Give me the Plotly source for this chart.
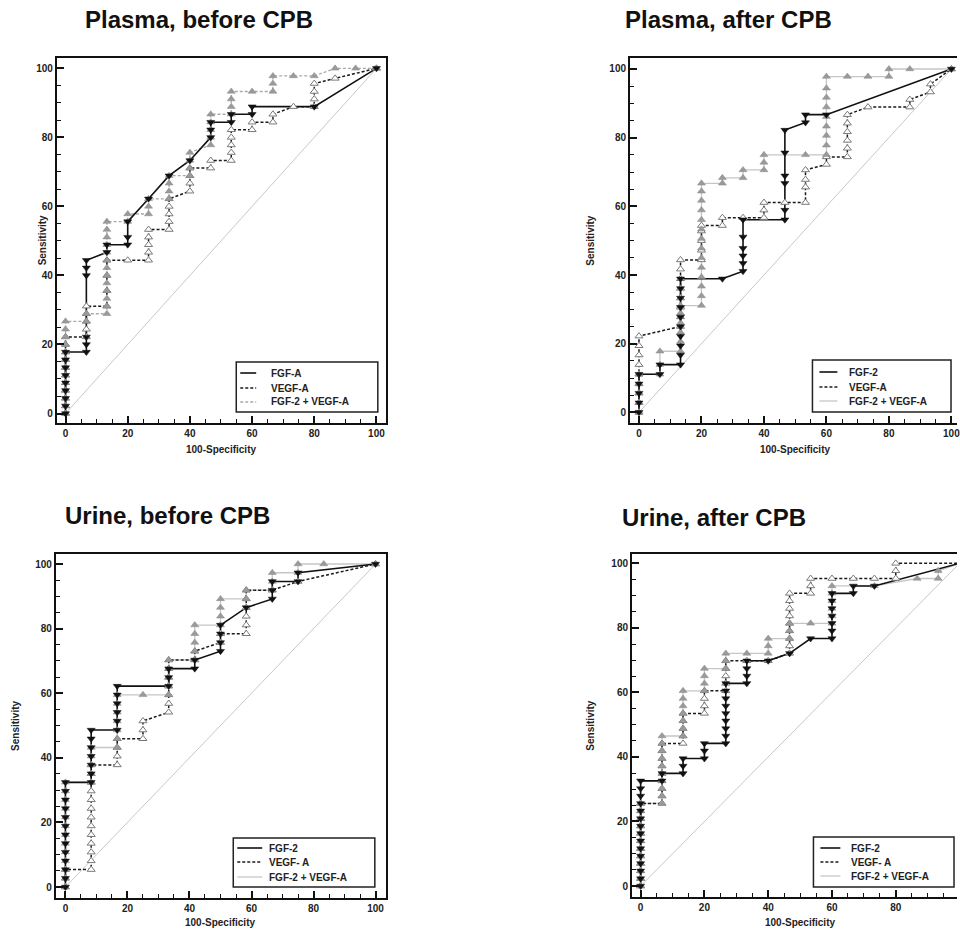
import plotly.graph_objects as go

# ---------------- data ----------------
# Panel 1: Plasma, before CPB
TL_FGF_X = [0, 0, 0, 0, 0, 0, 0, 0, 0,
            6.7, 6.7, 6.7, 6.7, 6.7, 6.7,
            13.3, 13.3,
            20, 20, 20,
            26.7, 33.3, 40,
            46.7, 46.7, 46.7,
            53.3, 53.3,
            60, 60,
            80, 100]
TL_FGF_Y = [0, 2.2, 4.4, 6.7, 8.9, 11.1, 13.3, 15.6, 17.8,
            17.8, 20.0, 22.2, 40.0, 42.2, 44.4,
            46.7, 48.9,
            48.9, 51.1, 55.6,
            62.2, 68.9, 73.3,
            80.0, 82.2, 84.4,
            84.4, 86.7,
            86.7, 88.9,
            88.9, 100]
TL_VEGF_X = [0, 0, 0, 0, 0, 0, 0, 0, 0, 0, 0,
             6.7, 6.7, 6.7, 6.7, 6.7,
             13.3, 13.3, 13.3, 13.3,
             20,
             26.7, 26.7, 26.7, 26.7, 26.7,
             33.3, 33.3, 33.3, 33.3, 33.3,
             40, 40, 40, 40,
             46.7, 46.7,
             53.3, 53.3, 53.3, 53.3, 53.3,
             60, 60,
             66.7, 66.7,
             73.3,
             80, 80, 80, 80,
             86.7, 100]
TL_VEGF_Y = [0, 2.2, 4.4, 6.7, 8.9, 11.1, 13.3, 15.6, 17.8, 20.0, 22.2,
             22.2, 24.4, 26.7, 28.9, 31.1,
             31.1, 35.6, 40.0, 44.4,
             44.4,
             44.4, 46.7, 48.9, 51.1, 53.3,
             53.3, 55.6, 57.8, 60.0, 62.2,
             64.4, 66.7, 68.9, 71.1,
             71.1, 73.3,
             73.3, 75.6, 77.8, 80.0, 82.2,
             82.2, 84.4,
             84.4, 86.7,
             88.9,
             88.9, 91.1, 93.3, 95.6,
             97.1, 100]
TL_COMBO_X = [0, 0, 0, 0, 0, 0, 0, 0, 0, 0, 0, 0, 0,
              6.7, 6.7,
              13.3, 13.3, 13.3, 13.3, 13.3, 13.3, 13.3, 13.3, 13.3, 13.3, 13.3, 13.3, 13.3,
              20, 20,
              26.7, 26.7, 26.7,
              33.3, 33.3, 33.3, 33.3,
              40, 40, 40, 40,
              46.7, 46.7, 46.7, 46.7, 46.7,
              53.3, 53.3, 53.3, 53.3,
              60,
              66.7, 66.7, 66.7,
              73.3, 80, 86.7, 93.3, 100]
TL_COMBO_Y = [0, 2.2, 4.4, 6.7, 8.9, 11.1, 13.3, 15.6, 17.8, 20.0, 22.2, 24.4, 26.7,
              26.7, 28.9,
              28.9, 31.1, 33.3, 35.6, 37.8, 40.0, 42.2, 44.4, 46.7, 48.9, 51.1, 53.3, 55.6,
              55.6, 57.8,
              57.8, 60.0, 62.2,
              62.2, 64.4, 66.7, 68.9,
              68.9, 71.1, 73.3, 75.6,
              77.8, 80.0, 82.2, 84.4, 86.7,
              86.7, 88.9, 91.1, 93.3,
              93.3,
              93.3, 95.6, 97.8,
              97.8, 97.8, 100, 100, 100]

# Panel 2: Plasma, after CPB
TR_FGF_X = [0, 0, 0, 0, 0,
            6.7, 6.7,
            13.3, 13.3, 13.3, 13.3, 13.3, 13.3, 13.3, 13.3, 13.3, 13.3,
            26.7,
            33.3, 33.3, 33.3, 33.3, 33.3, 33.3,
            46.7, 46.7, 46.7, 46.7, 46.7, 46.7,
            53.3, 53.3,
            60, 100]
TR_FGF_Y = [0, 2.8, 5.6, 8.3, 11.1,
            11.1, 13.9,
            13.9, 16.7, 19.4, 22.2, 25.0, 27.8, 30.6, 33.3, 36.1, 38.9,
            38.9,
            41.1, 43.4, 45.6, 47.8, 51.1, 56.1,
            56.1, 58.9, 66.7, 68.9, 75.6, 82.2,
            84.4, 86.7,
            86.7, 100]
TR_VEGF_X = [0, 0, 0, 0, 0, 0, 0, 0, 0,
             13.3, 13.3, 13.3, 13.3, 13.3, 13.3, 13.3, 13.3,
             20, 20, 20, 20, 20,
             26.7, 26.7,
             33.3,
             40, 40, 40,
             46.7,
             53.3, 53.3, 53.3, 53.3,
             60, 60,
             66.7, 66.7, 66.7, 66.7, 66.7, 66.7,
             73.3,
             86.7, 86.7,
             93.3, 93.3,
             100]
TR_VEGF_Y = [0, 2.8, 5.6, 8.3, 11.1, 13.9, 16.7, 19.4, 22.2,
             25.0, 27.8, 30.6, 33.3, 36.1, 38.9, 41.7, 44.4,
             44.4, 47.2, 50.0, 52.8, 54.4,
             54.4, 56.7,
             56.7,
             56.7, 58.9, 61.1,
             61.1,
             61.1, 65.6, 67.8, 70.6,
             72.2, 74.4,
             74.4, 76.9, 79.2, 81.7, 84.2, 86.7,
             88.9,
             88.9, 91.1,
             93.3, 95.6,
             100]
TR_COMBO_X = [0, 0, 0, 0, 0,
              6.7, 6.7, 6.7,
              13.3, 13.3, 13.3, 13.3, 13.3, 13.3,
              20, 20, 20, 20, 20, 20, 20, 20, 20, 20, 20, 20, 20, 20,
              26.7, 26.7,
              33.3, 33.3,
              40, 40, 40,
              53.3,
              60, 60, 60, 60, 60, 60, 60, 60, 60,
              66.7, 73.3,
              80, 80,
              86.7, 100]
TR_COMBO_Y = [0, 2.8, 5.6, 8.3, 11.1,
              11.1, 13.9, 17.8,
              17.8, 20.6, 23.3, 26.1, 28.9, 31.1,
              31.1, 33.9, 36.7, 39.4, 42.2, 45.0, 47.8, 50.6, 53.3, 56.1, 58.9, 61.7, 64.4, 66.7,
              66.7, 68.3,
              68.3, 70.6,
              70.6, 72.8, 75.0,
              75.0,
              75.0, 77.8, 80.6, 83.3, 86.1, 88.9, 91.7, 94.4, 97.8,
              97.8, 97.8,
              97.8, 100,
              100, 100]

# Panel 3: Urine, before CPB
BL_FGF_X = [0, 0, 0, 0, 0, 0, 0, 0, 0, 0, 0, 0, 0,
            8.3, 8.3, 8.3, 8.3, 8.3, 8.3, 8.3,
            16.7, 16.7, 16.7, 16.7, 16.7, 16.7,
            33.3, 33.3, 33.3,
            41.7, 41.7,
            50, 50, 50, 50,
            58.3,
            66.7, 66.7, 66.7,
            75, 75,
            100]
BL_FGF_Y = [0, 2.7, 5.4, 8.1, 10.8, 13.5, 16.2, 18.9, 21.6, 24.3, 27.0, 29.7, 32.4,
            32.4, 35.1, 37.8, 40.5, 43.2, 45.9, 48.6,
            48.6, 51.4, 54.1, 56.8, 59.5, 62.2,
            62.2, 64.9, 67.6,
            67.6, 70.3,
            73.0, 75.7, 78.4, 81.1,
            86.5,
            89.2, 91.9, 94.6,
            94.6, 97.3,
            100]
BL_VEGF_X = [0, 0, 0,
             8.3, 8.3, 8.3, 8.3, 8.3, 8.3, 8.3, 8.3, 8.3, 8.3, 8.3, 8.3, 8.3,
             16.7, 16.7, 16.7, 16.7,
             25, 25, 25,
             33.3, 33.3, 33.3, 33.3, 33.3, 33.3, 33.3,
             41.7, 41.7,
             50, 50,
             58.3, 58.3, 58.3, 58.3, 58.3, 58.3,
             66.7, 75, 100]
BL_VEGF_Y = [0, 2.7, 5.4,
             5.4, 8.1, 10.8, 13.5, 16.2, 18.9, 21.6, 24.3, 27.0, 29.7, 32.4, 35.1, 37.8,
             37.8, 40.5, 43.2, 45.9,
             45.9, 48.6, 51.4,
             54.1, 56.8, 59.5, 62.2, 64.9, 67.6, 70.3,
             70.3, 73.0,
             75.7, 78.4,
             78.4, 81.1, 83.8, 86.5, 89.2, 91.9,
             91.9, 94.6, 100]
BL_COMBO_X = [0, 0, 0, 0, 0, 0, 0, 0, 0, 0, 0, 0, 0,
              8.3, 8.3, 8.3, 8.3, 8.3,
              16.7, 16.7, 16.7, 16.7, 16.7, 16.7, 16.7,
              25,
              33.3, 33.3, 33.3, 33.3, 33.3,
              41.7, 41.7, 41.7, 41.7, 41.7,
              50, 50, 50, 50,
              58.3, 58.3,
              66.7, 66.7, 66.7,
              75, 75,
              83.3, 100]
BL_COMBO_Y = [0, 2.7, 5.4, 8.1, 10.8, 13.5, 16.2, 18.9, 21.6, 24.3, 27.0, 29.7, 32.4,
              32.4, 35.1, 37.8, 40.5, 43.2,
              43.2, 45.9, 48.6, 51.4, 54.1, 56.8, 59.5,
              59.5,
              59.5, 62.2, 64.9, 67.6, 70.3,
              70.3, 73.0, 75.7, 78.4, 81.1,
              81.1, 83.8, 86.5, 89.2,
              89.2, 91.9,
              91.9, 94.6, 97.3,
              97.3, 100,
              100, 100]

# Panel 4: Urine, after CPB
BR_FGF_X = [0, 0, 0, 0, 0, 0, 0, 0, 0, 0, 0, 0, 0, 0, 0,
            6.7, 6.7,
            13.3, 13.3, 13.3,
            20, 20, 20,
            26.7, 26.7, 26.7, 26.7, 26.7, 26.7, 26.7, 26.7, 26.7,
            33.3, 33.3, 33.3, 33.3,
            40, 46.7, 53.3,
            60, 60, 60, 60, 60, 60, 60,
            66.7, 66.7,
            73.3, 100]
BR_FGF_Y = [0, 2.3, 4.7, 7.0, 9.3, 11.6, 14.0, 16.3, 18.6, 20.9, 23.3, 25.6, 27.9, 30.2, 32.6,
            32.6, 34.9,
            34.9, 37.2, 39.5,
            39.5, 41.9, 44.2,
            44.2, 46.5, 48.8, 51.2, 53.5, 55.8, 58.1, 60.5, 62.8,
            62.8, 65.1, 67.4, 69.8,
            69.8, 72.1, 76.7,
            76.7, 79.1, 81.4, 83.7, 86.0, 88.4, 90.7,
            90.7, 93.0,
            93.0, 100]
BR_VEGF_X = [0, 0, 0, 0, 0, 0, 0, 0, 0, 0, 0, 0,
             6.7, 6.7, 6.7, 6.7, 6.7, 6.7, 6.7, 6.7, 6.7,
             13.3, 13.3, 13.3, 13.3, 13.3,
             20, 20, 20, 20,
             26.7, 26.7, 26.7, 26.7, 26.7,
             33.3, 40,
             46.7, 46.7, 46.7, 46.7, 46.7, 46.7, 46.7, 46.7, 46.7,
             53.3, 53.3, 53.3,
             60, 66.7, 73.3,
             80, 80, 80,
             100]
BR_VEGF_Y = [0, 2.3, 4.7, 7.0, 9.3, 11.6, 14.0, 16.3, 18.6, 20.9, 23.3, 25.6,
             25.6, 27.9, 30.2, 32.6, 34.9, 37.2, 39.5, 41.9, 44.2,
             44.2, 46.5, 48.8, 51.2, 53.5,
             53.5, 55.8, 58.1, 60.5,
             60.5, 62.8, 65.1, 67.4, 69.8,
             69.8, 69.8,
             72.1, 74.4, 76.7, 79.1, 81.4, 83.7, 86.0, 88.4, 90.7,
             90.7, 93.0, 95.3,
             95.3, 95.3, 95.3,
             95.3, 97.7, 100,
             100]
BR_COMBO_X = [0, 0, 0, 0, 0, 0, 0, 0, 0, 0, 0, 0,
              6.7, 6.7, 6.7, 6.7, 6.7, 6.7, 6.7, 6.7, 6.7, 6.7,
              13.3, 13.3, 13.3, 13.3, 13.3, 13.3, 13.3,
              20, 20, 20, 20,
              26.7, 26.7, 26.7,
              33.3,
              40, 40, 40,
              46.7, 46.7, 46.7,
              53.3,
              60, 60, 60, 60, 60, 60,
              73.3, 86.7,
              93.3, 93.3,
              100]
BR_COMBO_Y = [0, 2.3, 4.7, 7.0, 9.3, 11.6, 14.0, 16.3, 18.6, 20.9, 23.3, 25.6,
              25.6, 27.9, 30.2, 32.6, 34.9, 37.2, 39.5, 41.9, 44.2, 46.5,
              46.5, 48.8, 51.2, 53.5, 55.8, 58.1, 60.5,
              60.5, 62.8, 65.1, 67.4,
              67.4, 69.8, 72.1,
              72.1,
              72.1, 74.4, 76.7,
              76.7, 79.1, 81.4,
              81.4,
              81.4, 83.7, 86.0, 88.4, 90.7, 93.0,
              93.0, 95.3,
              95.3, 97.7,
              100]

DIAG_X = [0, 100]
DIAG_Y = [0, 100]

TITLES = ["Plasma, before CPB", "Plasma, after CPB", "Urine, before CPB", "Urine, after CPB"]
LEGEND_LABELS = [
    ["FGF-A", "VEGF-A", "FGF-2 + VEGF-A"],
    ["FGF-2", "VEGF-A", "FGF-2 + VEGF-A"],
    ["FGF-2", "VEGF- A", "FGF-2 + VEGF-A"],
    ["FGF-2", "VEGF- A", "FGF-2 + VEGF-A"],
]
TICK_VALS = [0, 20, 40, 60, 80, 100]
TICK_TEXT = ["0", "20", "40", "60", "80", "100"]
X_TITLE = "100-Specificity"
Y_TITLE = "Sensitivity"

SERIES = [
    (TL_FGF_X, TL_FGF_Y, TL_VEGF_X, TL_VEGF_Y, TL_COMBO_X, TL_COMBO_Y),
    (TR_FGF_X, TR_FGF_Y, TR_VEGF_X, TR_VEGF_Y, TR_COMBO_X, TR_COMBO_Y),
    (BL_FGF_X, BL_FGF_Y, BL_VEGF_X, BL_VEGF_Y, BL_COMBO_X, BL_COMBO_Y),
    (BR_FGF_X, BR_FGF_Y, BR_VEGF_X, BR_VEGF_Y, BR_COMBO_X, BR_COMBO_Y),
]
for s in SERIES:
    for i in range(0, 6, 2):
        assert len(s[i]) == len(s[i + 1]), (len(s[i]), len(s[i + 1]))

# ---------------- layout / style ----------------
W, H = 960, 934
FONT = "Liberation Sans, Arial, Helvetica, sans-serif"


def px(x):
    return x / W


def py(y):
    return 1 - y / H


PANELS = [
    dict(box=(57, 58, 387, 423), xr=[-2.8, 103.0], yr=[-2.75, 103.0], mirror_y=True,
         title_xy=(200, 19), ytitle_x=43, xtitle_y=449,
         leg_box=(237, 362, 379, 412), leg_rows=(373, 388, 402), sample=(241, 257), text_x=270,
         combo_dash="3px,2px", combo_color="#a9a9a9"),
    dict(box=(632, 58, 960, 423), xr=[-2.87, 101.8], yr=[-3.1, 103.2], mirror_y=False,
         title_xy=(731, 19), ytitle_x=592, xtitle_y=449,
         leg_box=(815, 360, 954, 412), leg_rows=(372, 387, 401), sample=(822, 840), text_x=850,
         combo_dash="solid", combo_color="#c6c6c6"),
    dict(box=(56, 554, 387, 898), xr=[-3.1, 103.3], yr=[-3.4, 103.1], mirror_y=True,
         title_xy=(168, 515), ytitle_x=15, xtitle_y=922,
         leg_box=(234, 838, 376, 887), leg_rows=(848, 862, 877), sample=(238, 263), text_x=268,
         combo_dash="solid", combo_color="#c6c6c6"),
    dict(box=(634, 554, 960, 897), xr=[-2.7, 99.2], yr=[-3.4, 102.9], mirror_y=False,
         title_xy=(716, 517), ytitle_x=592, xtitle_y=922,
         leg_box=(816, 837, 957, 887), leg_rows=(848, 862, 876), sample=(823, 843), text_x=852,
         combo_dash="solid", combo_color="#c6c6c6"),
]

fig = go.Figure()
layout = dict(width=W, height=H, margin=dict(l=0, r=0, t=0, b=0),
              paper_bgcolor="white", plot_bgcolor="white", showlegend=False,
              font=dict(family=FONT, color="#222"))
shapes = []
annotations = []

for i, (p, s) in enumerate(zip(PANELS, SERIES)):
    n = "" if i == 0 else str(i + 1)
    xa, ya = "x" + n, "y" + n
    x0, y0, x1, y1 = p["box"]
    axis_common = dict(showgrid=False, zeroline=False, showline=True, linecolor="#111",
                       linewidth=2, ticks="inside", ticklen=7, tickwidth=1.5, tickcolor="#111",
                       tickvals=TICK_VALS, ticktext=TICK_TEXT,
                       tickfont=dict(family=FONT, size=10, color="#222", weight="bold"),
                       minor=dict(ticks="inside", ticklen=4, tickwidth=1, tickcolor="#111",
                                  dtick=5, tick0=0, showgrid=False),
                       ticklabeloverflow="allow",
                       fixedrange=True)
    layout["xaxis" + n] = dict(axis_common, domain=[px(x0), px(x1)], range=p["xr"],
                               anchor=ya, mirror=True)
    layout["yaxis" + n] = dict(axis_common, domain=[py(y1), py(y0)], range=p["yr"],
                               anchor=xa, mirror=p["mirror_y"])

    fx, fy, vx, vy, cx, cy = s
    # reference diagonal
    fig.add_trace(go.Scatter(x=DIAG_X, y=DIAG_Y, mode="lines", xaxis=xa, yaxis=ya,
                             line=dict(color="#c8c8c8", width=1), hoverinfo="skip"))
    # lines
    fig.add_trace(go.Scatter(x=cx, y=cy, mode="lines", xaxis=xa, yaxis=ya,
                             line=dict(color=p["combo_color"], width=1.3, dash=p["combo_dash"])))
    fig.add_trace(go.Scatter(x=vx, y=vy, mode="lines", xaxis=xa, yaxis=ya,
                             line=dict(color="#1a1a1a", width=1.5, dash="3px,2px")))
    fig.add_trace(go.Scatter(x=fx, y=fy, mode="lines", xaxis=xa, yaxis=ya,
                             line=dict(color="#111", width=1.6)))
    # markers
    fig.add_trace(go.Scatter(x=vx, y=vy, mode="markers", xaxis=xa, yaxis=ya, cliponaxis=False,
                             marker=dict(symbol="triangle-up", size=7, color="white",
                                         line=dict(color="#7a7a7a", width=1))))
    fig.add_trace(go.Scatter(x=cx, y=cy, mode="markers", xaxis=xa, yaxis=ya, cliponaxis=False,
                             marker=dict(symbol="triangle-up", size=7, color="#9a9a9a",
                                         line=dict(color="#8a8a8a", width=0.5))))
    fig.add_trace(go.Scatter(x=fx, y=fy, mode="markers", xaxis=xa, yaxis=ya, cliponaxis=False,
                             marker=dict(symbol="triangle-down", size=7, color="#111",
                                         line=dict(color="#111", width=0.5))))

    # panel title
    tx, ty = p["title_xy"]
    annotations.append(dict(text=TITLES[i], x=px(tx), y=py(ty), xref="paper", yref="paper",
                            xanchor="center", yanchor="middle", showarrow=False,
                            font=dict(family=FONT, size=24, color="#111", weight="bold")))
    # axis titles
    annotations.append(dict(text=Y_TITLE, x=px(p["ytitle_x"]), y=py((y0 + y1) / 2),
                            xref="paper", yref="paper", textangle=-90, showarrow=False,
                            xanchor="center", yanchor="middle",
                            font=dict(family=FONT, size=10, color="#222", weight="bold")))
    xmid = x0 + (50 - p["xr"][0]) / (p["xr"][1] - p["xr"][0]) * (x1 - x0)
    annotations.append(dict(text=X_TITLE, x=px(xmid), y=py(p["xtitle_y"]),
                            xref="paper", yref="paper", showarrow=False,
                            xanchor="center", yanchor="middle",
                            font=dict(family=FONT, size=10, color="#222", weight="bold")))

    # legend box (drawn manually)
    lx0, ly0, lx1, ly1 = p["leg_box"]
    shapes.append(dict(type="rect", xref="paper", yref="paper", x0=px(lx0), x1=px(lx1),
                       y0=py(ly1), y1=py(ly0), line=dict(color="#222", width=1.5),
                       fillcolor="white", layer="above"))
    styles = [dict(color="#111", width=1.6, dash="solid"),
              dict(color="#1a1a1a", width=1.5, dash="3px,2px"),
              dict(color=p["combo_color"], width=1.3, dash=p["combo_dash"])]
    sx0, sx1 = p["sample"]
    for row, st, lab in zip(p["leg_rows"], styles, LEGEND_LABELS[i]):
        shapes.append(dict(type="line", xref="paper", yref="paper", x0=px(sx0), x1=px(sx1),
                           y0=py(row), y1=py(row), line=st, layer="above"))
        annotations.append(dict(text=lab, x=px(p["text_x"]), y=py(row), xref="paper",
                                yref="paper", xanchor="left", yanchor="middle",
                                showarrow=False,
                                font=dict(family=FONT, size=10, color="#222", weight="bold")))

layout["shapes"] = shapes
layout["annotations"] = annotations
fig.update_layout(**layout)
fig.write_html("out.html", config={"displayModeBar": False},
               post_script="document.body.style.margin='0px';"
                           "document.body.style.overflow='hidden';")
